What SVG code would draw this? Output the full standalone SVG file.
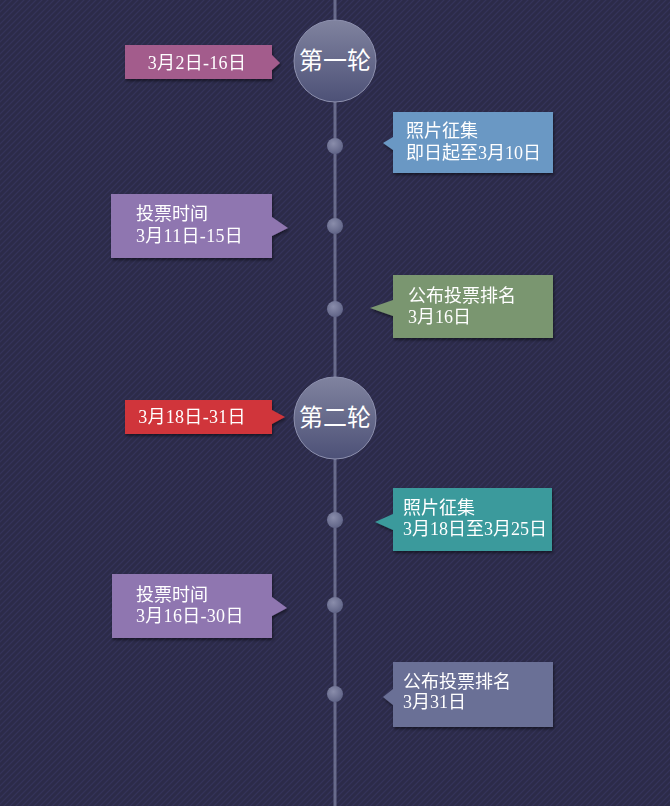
<svg xmlns="http://www.w3.org/2000/svg" width="670" height="806" viewBox="0 0 670 806">
<defs>
<pattern id="bg" width="6" height="6" patternUnits="userSpaceOnUse">
<rect width="6" height="6" fill="#2c2b49"/>
<path d="M0,6 L6,0 M-1,1 L1,-1 M5,7 L7,5" stroke="#34335a" stroke-width="1.2"/>
</pattern>
<linearGradient id="cg" x1="0" y1="0" x2="0" y2="1">
<stop offset="0" stop-color="#80839f"/>
<stop offset="1" stop-color="#4d5177"/>
</linearGradient>
<radialGradient id="dg" cx="0.4" cy="0.35" r="0.7">
<stop offset="0" stop-color="#8a8dab"/>
<stop offset="1" stop-color="#5d6184"/>
</radialGradient>
<filter id="sh" x="-10%" y="-10%" width="125%" height="140%">
<feDropShadow dx="1" dy="2" stdDeviation="1.5" flood-color="#000" flood-opacity="0.5"/>
</filter>
</defs>
<style>
text{fill:#ffffff;font-family:"Liberation Serif","Noto Sans CJK SC",serif;font-size:18px}
.c{font-family:"Noto Sans CJK SC",sans-serif;font-size:24px}
.d{font-size:18px;letter-spacing:0.3px}
.dot{fill:url(#dg)}
.big{fill:url(#cg);stroke:#8d90ae;stroke-width:1}
</style>
<rect width="670" height="806" fill="url(#bg)"/>
<g id="connectors">
<line x1="335" y1="0" x2="335" y2="806" stroke="#686b8b" stroke-width="3"/>
</g>
<g id="round1">
<circle class="big" cx="335" cy="61" r="41"/>
<text class="c" x="335" y="69" text-anchor="middle">第一轮</text>
</g>
<g id="round1-date" filter="url(#sh)">
<path d="M125,45 H272 V55 L280,63 L272,70 V79 H125 Z" fill="#a35b8c"/>
<text class="d" x="197" y="69" text-anchor="middle">3月2日-16日</text>
</g>
<g id="dot1"><circle class="dot" cx="335" cy="146" r="8"/></g>
<g id="photo1" filter="url(#sh)">
<path d="M393,112 H553 V173 H393 V150 L383,143 L393,137 Z" fill="#6b98c4"/>
<text x="406" y="137">照片征集</text>
<text x="406" y="159">即日起至3月10日</text>
</g>
<g id="dot2"><circle class="dot" cx="335" cy="226" r="8"/></g>
<g id="vote1" filter="url(#sh)">
<path d="M111,194 H272 V217 L288,228 L272,236 V258 H111 Z" fill="#8f76b0"/>
<text x="136" y="220">投票时间</text>
<text class="d" x="136" y="242">3月11日-15日</text>
</g>
<g id="dot3"><circle class="dot" cx="335" cy="309" r="8"/></g>
<g id="rank1" filter="url(#sh)">
<path d="M393,275 H553 V338 H393 V316 L370,308 L393,300 Z" fill="#7a9670"/>
<text x="408" y="302">公布投票排名</text>
<text x="408" y="323">3月16日</text>
</g>
<g id="round2">
<circle class="big" cx="335" cy="418" r="41"/>
<text class="c" x="335" y="426" text-anchor="middle">第二轮</text>
</g>
<g id="round2-date" filter="url(#sh)">
<path d="M125,400 H272 V410 L285,417 L272,424 V434 H125 Z" fill="#d0353a"/>
<text class="d" x="192" y="423" text-anchor="middle">3月18日-31日</text>
</g>
<g id="dot4"><circle class="dot" cx="335" cy="520" r="8"/></g>
<g id="photo2" filter="url(#sh)">
<path d="M393,488 H552 V551 H393 V530 L375,522 L393,514 Z" fill="#3a9a9c"/>
<text x="403" y="514">照片征集</text>
<text x="403" y="535">3月18日至3月25日</text>
</g>
<g id="dot5"><circle class="dot" cx="335" cy="605" r="8"/></g>
<g id="vote2" filter="url(#sh)">
<path d="M112,574 H272 V597 L287,608 L272,616 V638 H112 Z" fill="#8f76b0"/>
<text x="136" y="601">投票时间</text>
<text class="d" x="136" y="622">3月16日-30日</text>
</g>
<g id="dot6"><circle class="dot" cx="335" cy="694" r="8"/></g>
<g id="rank2" filter="url(#sh)">
<path d="M393,662 H553 V727 H393 V705 L383,697 L393,689 Z" fill="#6b7096"/>
<text x="403" y="688">公布投票排名</text>
<text x="403" y="708">3月31日</text>
</g>
</svg>
